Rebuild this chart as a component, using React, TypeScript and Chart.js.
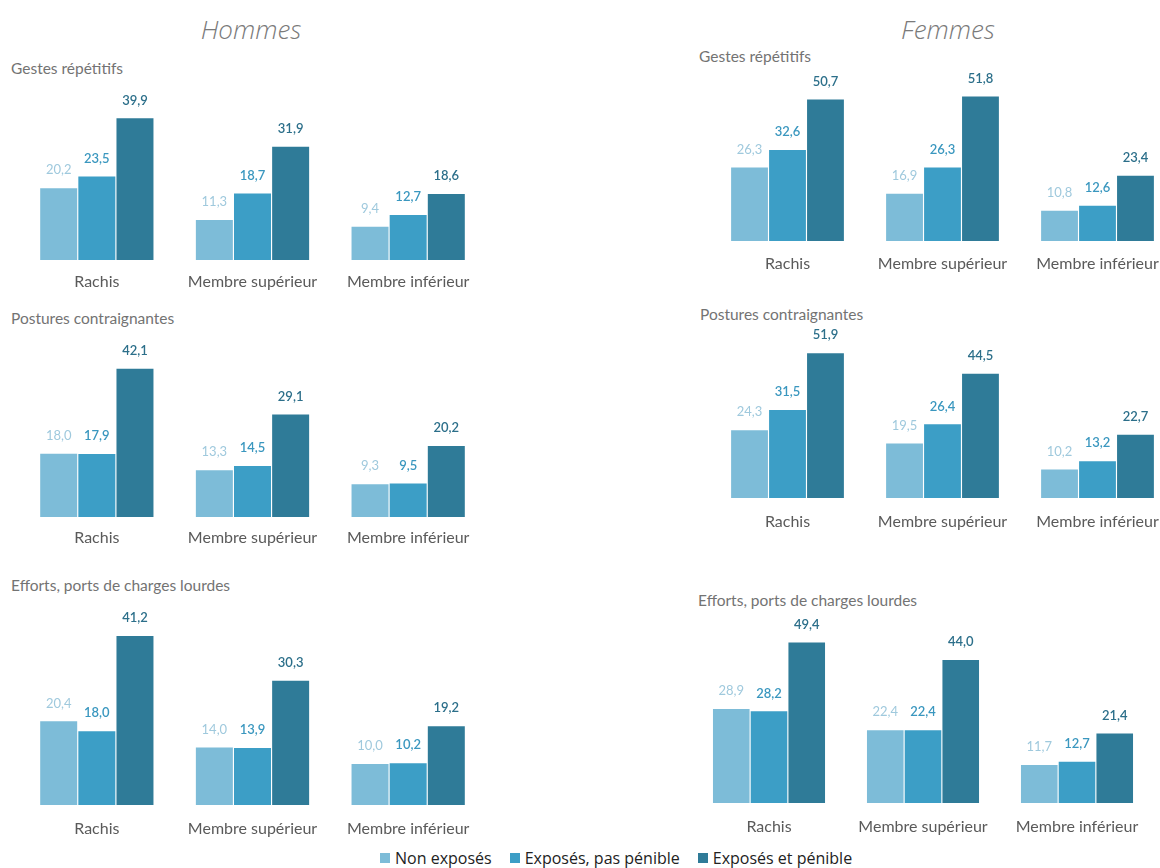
import React, { useEffect, useRef } from "react";
import { Chart, registerables } from "chart.js";
Chart.register(...registerables);

const categories = ["Rachis", "Membre supérieur", "Membre inférieur"];
const seriesNames = ["Non exposés", "Exposés, pas pénible", "Exposés et pénible"];
const groupTitles = ["Hommes", "Femmes"];
const panelTitles = ["Gestes répétitifs", "Postures contraignantes", "Efforts, ports de charges lourdes"];

// Hommes
const hommesGestesNonExposes = [20.2, 11.3, 9.4];
const hommesGestesPasPenible = [23.5, 18.7, 12.7];
const hommesGestesPenible = [39.9, 31.9, 18.6];
const hommesPosturesNonExposes = [18.0, 13.3, 9.3];
const hommesPosturesPasPenible = [17.9, 14.5, 9.5];
const hommesPosturesPenible = [42.1, 29.1, 20.2];
const hommesEffortsNonExposes = [20.4, 14.0, 10.0];
const hommesEffortsPasPenible = [18.0, 13.9, 10.2];
const hommesEffortsPenible = [41.2, 30.3, 19.2];
// Femmes
const femmesGestesNonExposes = [26.3, 16.9, 10.8];
const femmesGestesPasPenible = [32.6, 26.3, 12.6];
const femmesGestesPenible = [50.7, 51.8, 23.4];
const femmesPosturesNonExposes = [24.3, 19.5, 10.2];
const femmesPosturesPasPenible = [31.5, 26.4, 13.2];
const femmesPosturesPenible = [51.9, 44.5, 22.7];
const femmesEffortsNonExposes = [28.9, 22.4, 11.7];
const femmesEffortsPasPenible = [28.2, 22.4, 12.7];
const femmesEffortsPenible = [49.4, 44.0, 21.4];

const barColors = ["#7dbcd8", "#3c9ec6", "#2f7b98"];
const valueColors = ["#9fc9dd", "#3a97bf", "#2c6f8a"];

const PLOT_H = 200;
const AXIS_H = 40;

type Panel = {
  title: string;
  series: number[][];
  canvasLeft: number;
  canvasWidth: number;
  padLeft: number;
  baseline: number;
  ppu: number;
  labelPad: number;
  titleX: number;
  titleY: number;
};

const panels: Panel[] = [
  { title: panelTitles[0], series: [hommesGestesNonExposes, hommesGestesPasPenible, hommesGestesPenible],
    canvasLeft: 0, canvasWidth: 486, padLeft: 19, baseline: 260, ppu: 3.55, labelPad: 4, titleX: 11, titleY: 68 },
  { title: panelTitles[1], series: [hommesPosturesNonExposes, hommesPosturesPasPenible, hommesPosturesPenible],
    canvasLeft: 0, canvasWidth: 486, padLeft: 19, baseline: 517, ppu: 3.52, labelPad: 3, titleX: 11, titleY: 318 },
  { title: panelTitles[2], series: [hommesEffortsNonExposes, hommesEffortsPasPenible, hommesEffortsPenible],
    canvasLeft: 0, canvasWidth: 486, padLeft: 19, baseline: 805, ppu: 4.1, labelPad: 6, titleX: 11, titleY: 585 },
  { title: panelTitles[0], series: [femmesGestesNonExposes, femmesGestesPasPenible, femmesGestesPenible],
    canvasLeft: 690, canvasWidth: 485, padLeft: 20, baseline: 241, ppu: 2.79, labelPad: 5, titleX: 699, titleY: 56 },
  { title: panelTitles[1], series: [femmesPosturesNonExposes, femmesPosturesPasPenible, femmesPosturesPenible],
    canvasLeft: 690, canvasWidth: 485, padLeft: 20, baseline: 498, ppu: 2.79, labelPad: 6, titleX: 700, titleY: 314 },
  { title: panelTitles[2], series: [femmesEffortsNonExposes, femmesEffortsPasPenible, femmesEffortsPenible],
    canvasLeft: 673, canvasWidth: 481, padLeft: 19, baseline: 803, ppu: 3.25, labelPad: 6, titleX: 698, titleY: 600 },
];

const valueLabels = {
  id: "valueLabels",
  afterDatasetsDraw(chart: any) {
    const ctx = chart.ctx;
    chart.data.datasets.forEach((ds: any, i: number) => {
      const meta = chart.getDatasetMeta(i);
      meta.data.forEach((bar: any, j: number) => {
        const v = ds.data[j] as number;
        ctx.save();
        ctx.font = (i === 0 ? "400" : "600") + " 13px Lato";
        ctx.fillStyle = valueColors[i];
        ctx.textAlign = "center";
        ctx.textBaseline = "middle";
        ctx.fillText(v.toFixed(1).replace(".", ","), bar.x, bar.y - 18);
        ctx.restore();
      });
    });
  },
};

function PanelChart({ p }: { p: Panel }) {
  const ref = useRef<HTMLCanvasElement>(null);
  useEffect(() => {
    if (!ref.current) return;
    const chart = new Chart(ref.current, {
      type: "bar",
      data: {
        labels: categories,
        datasets: p.series.map((d, i) => ({
          label: seriesNames[i],
          data: d,
          backgroundColor: barColors[i],
          borderWidth: 0,
          categoryPercentage: 0.735,
          barPercentage: 0.97,
        })),
      },
      options: {
        animation: false,
        responsive: false,
        maintainAspectRatio: false,
        layout: { padding: { left: p.padLeft, right: 0, top: 0, bottom: 0 } },
        plugins: { legend: { display: false }, tooltip: { enabled: false }, title: { display: false } },
        scales: {
          y: { display: false, min: 0, max: PLOT_H / p.ppu },
          x: {
            grid: { display: false },
            border: { display: false },
            ticks: {
              color: "#5a5a5a",
              font: { family: "Lato", size: 16 },
              padding: p.labelPad,
              maxRotation: 0,
              autoSkip: false,
            },
            afterFit: (scale: any) => {
              scale.height = AXIS_H;
            },
          },
        },
      },
      plugins: [valueLabels],
    });
    return () => chart.destroy();
  }, [p]);
  return (
    <canvas
      ref={ref}
      width={p.canvasWidth}
      height={PLOT_H + AXIS_H}
      style={{
        position: "absolute",
        left: p.canvasLeft,
        top: p.baseline - PLOT_H,
        width: p.canvasWidth,
        height: PLOT_H + AXIS_H,
      }}
    />
  );
}

export default function App() {
  return (
    <div
      style={{
        position: "fixed",
        left: 0,
        top: 0,
        width: 1160,
        height: 868,
        overflow: "hidden",
        background: "#fff",
      }}
    >
      {groupTitles.map((t, i) => (
        <div
          key={t}
          style={{
            position: "absolute",
            left: i === 0 ? 151 : 848,
            width: 200,
            top: 14,
            textAlign: "center",
            fontFamily: "'Open Sans', sans-serif",
            fontStyle: "italic",
            fontWeight: 300,
            fontSize: 26,
            color: "#7a7a7a",
            lineHeight: "30px",
          }}
        >
          {t}
        </div>
      ))}
      {panels.map((p, i) => (
        <div
          key={"t" + i}
          style={{
            position: "absolute",
            left: p.titleX,
            top: p.titleY - 10,
            fontFamily: "Lato, sans-serif",
            fontSize: 15.5,
            color: "#737373",
            lineHeight: "20px",
            whiteSpace: "nowrap",
          }}
        >
          {p.title}
        </div>
      ))}
      {panels.map((p, i) => (
        <PanelChart key={"c" + i} p={p} />
      ))}
      <div
        style={{
          position: "absolute",
          left: 380,
          top: 848,
          height: 20,
          display: "flex",
          alignItems: "center",
          fontFamily: "'Open Sans', sans-serif",
          fontSize: 16,
          color: "#222",
          whiteSpace: "nowrap",
        }}
      >
        {seriesNames.map((s, i) => (
          <span key={s} style={{ display: "flex", alignItems: "center", marginRight: 18 }}>
            <span
              style={{
                display: "inline-block",
                width: 10,
                height: 10,
                background: barColors[i],
                marginRight: 5,
              }}
            />
            {s}
          </span>
        ))}
      </div>
    </div>
  );
}
